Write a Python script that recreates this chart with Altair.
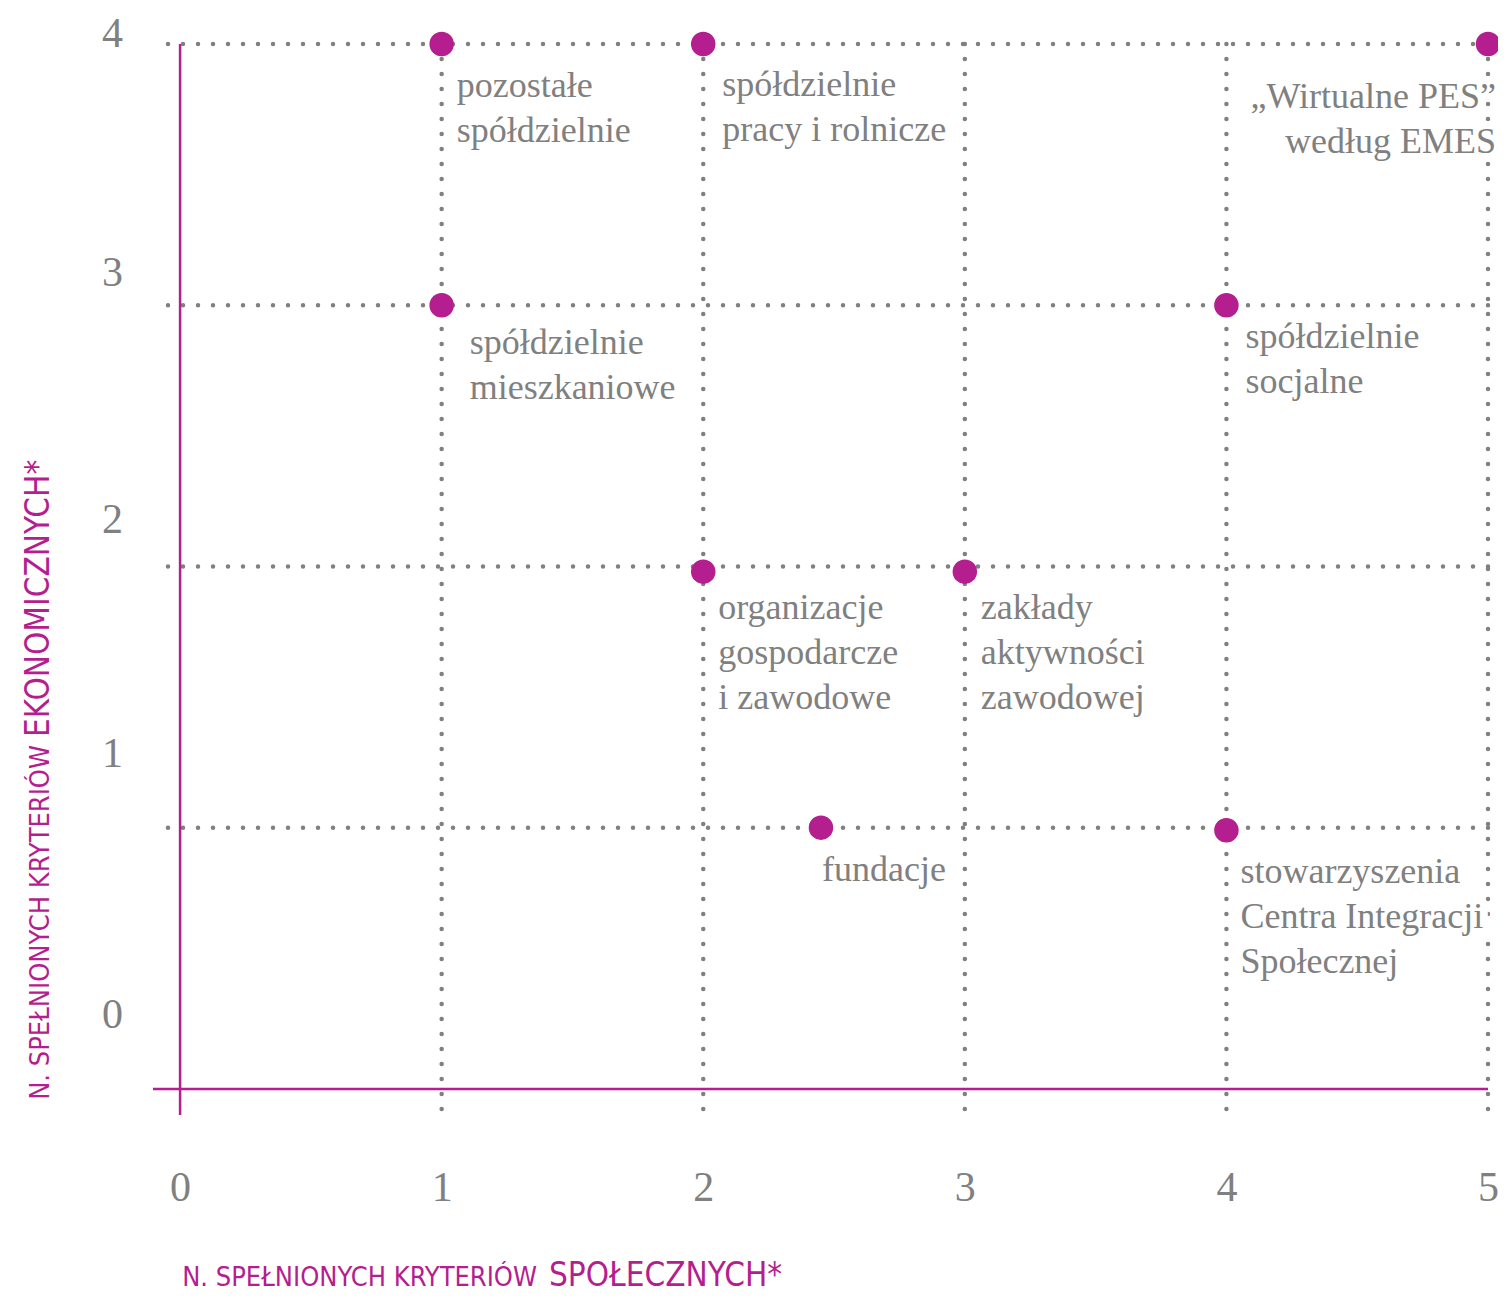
import altair as alt
import pandas as pd

# ---------------- data ----------------
categories = [
    "pozostałe\nspółdzielnie",
    "spółdzielnie\npracy i rolnicze",
    "„Wirtualne PES”\nwedług EMES",
    "spółdzielnie\nmieszkaniowe",
    "spółdzielnie\nsocjalne",
    "organizacje\ngospodarcze\ni zawodowe",
    "zakłady\naktywności\nzawodowej",
    "fundacje",
    "stowarzyszenia\nCentra Integracji\nSpołecznej",
]
social = [1, 2, 5, 1, 4, 2, 3, 2.45, 4]
economic = [4, 4, 4, 3, 3, 1.98, 1.98, 1.0, 0.99]

x_ticks = [0, 1, 2, 3, 4, 5]
y_ticks = [0, 1, 2, 3, 4]
x_grid = [1, 2, 3, 4, 5]
y_grid = [1, 2, 3, 4]

x_title_small = "N. SPEŁNIONYCH KRYTERIÓW"
x_title_big = "SPOŁECZNYCH*"
y_title_small = "N. SPEŁNIONYCH KRYTERIÓW"
y_title_big = "EKONOMICZNYCH*"

# ---------------- layout / style ----------------
MAGENTA = "#b41e8e"
GREY = "#808080"
SERIF = "Liberation Serif, Times New Roman, serif"
NARROW = "Liberation Sans Narrow, DejaVu Sans Condensed, Roboto, sans-serif"

label_dx = [15, 19, 8, 28, 19, 15, 16, 1, 14]
label_dy = [53, 52, 64, 49, 43, 47, 47, 53, 53]
label_align = ["left", "left", "right", "left", "left", "left", "left", "left", "left"]

W, H = 1335, 1071

xscale = alt.Scale(domain=[-0.1035, 5.0], nice=False, zero=False)
yscale = alt.Scale(domain=[-0.1, 4.0], nice=False, zero=False)

xaxis = alt.Axis(
    values=x_ticks, grid=False, domain=False, ticks=False, tickSize=0,
    labelPadding=85, labelBaseline="alphabetic", labelFont=SERIF,
    labelFontSize=42, labelColor=GREY, labelFlush=False, labelOverlap=False,
    title=None, format="d",
)
yaxis = alt.Axis(
    values=y_ticks, grid=False, domain=False, ticks=False, tickSize=0,
    labelPadding=41, labelAlign="center", labelBaseline="middle",
    labelFont=SERIF, labelFontSize=42, labelColor=GREY, labelFlush=False,
    labelOverlap=False, title=None, format="d",
    labelOffset={
        "condition": [
            {"test": "datum.value == 4", "value": -11},
            {"test": "datum.value == 3", "value": -33},
            {"test": "datum.value == 2", "value": -47},
        ],
        "value": -74,
    },
)

X = lambda f: alt.X(f, type="quantitative", scale=xscale, axis=xaxis)
Y = lambda f: alt.Y(f, type="quantitative", scale=yscale, axis=yaxis)

df = pd.DataFrame({"i": list(range(len(categories))), "label": categories,
                   "social": social, "economic": economic})

vgrid = alt.Chart(pd.DataFrame({"v": x_grid})).mark_rule(
    color=GREY, strokeWidth=4.5, strokeDash=[0, 15], strokeCap="round"
).encode(x=X("v"))
hgrid = alt.Chart(pd.DataFrame({"v": y_grid})).mark_rule(
    color=GREY, strokeWidth=4.5, strokeDash=[0, 15], strokeCap="round"
).encode(y=Y("v"))

vaxis_line = alt.Chart(pd.DataFrame({"v": [0]})).mark_rule(
    color=MAGENTA, strokeWidth=2.5
).encode(x=X("v"))
haxis_line = alt.Chart(pd.DataFrame({"v": [0]})).mark_rule(
    color=MAGENTA, strokeWidth=2.5
).encode(y=Y("v"))

layers = [vgrid, hgrid, vaxis_line, haxis_line]

base = alt.Chart(df)
for i in range(len(categories)):
    sel = base.transform_filter(alt.datum.i == i)
    common = dict(dx=label_dx[i], dy=label_dy[i], align=label_align[i],
                  baseline="alphabetic", font=SERIF, fontSize=36,
                  lineHeight=45, lineBreak="\n")
    halo = sel.mark_text(fill="white", stroke="white", strokeWidth=16,
                         strokeJoin="round", **common).encode(
        x=X("social"), y=Y("economic"), text="label:N")
    txt = sel.mark_text(color=GREY, **common).encode(
        x=X("social"), y=Y("economic"), text="label:N")
    layers += [halo, txt]

points = base.mark_circle(size=600, color=MAGENTA, opacity=1).encode(
    x=X("social"), y=Y("economic"))
layers.append(points)

# axis titles (two sizes in one line)
tdf = pd.DataFrame({"a": [x_title_small], "b": [x_title_big],
                    "c": [y_title_small], "d": [y_title_big]})
tb = alt.Chart(tdf)
xt1 = tb.mark_text(align="right", baseline="alphabetic", font=NARROW,
                   fontSize=27, color=MAGENTA).encode(
    x=alt.value(384), y=alt.value(1242), text="a:N")
xt2 = tb.mark_text(align="left", baseline="alphabetic", font=NARROW,
                   fontSize=33, color=MAGENTA).encode(
    x=alt.value(396), y=alt.value(1242), text="b:N")
yt1 = tb.mark_text(align="right", baseline="alphabetic", font=NARROW,
                   fontSize=27, color=MAGENTA, angle=270).encode(
    x=alt.value(-104), y=alt.value(701), text="c:N")
yt2 = tb.mark_text(align="left", baseline="alphabetic", font=NARROW,
                   fontSize=33, color=MAGENTA, angle=270).encode(
    x=alt.value(-104), y=alt.value(693), text="d:N")
layers += [xt1, xt2, yt1, yt2]

chart = alt.layer(*layers).properties(
    width=W, height=H,
    autosize=alt.AutoSizeParams(type="none"),
    padding={"left": 145, "top": 36, "right": 10, "bottom": 180},
    background="white",
).configure_view(stroke=None)

chart.save("out.html", embed_options={"renderer": "svg", "actions": False})
